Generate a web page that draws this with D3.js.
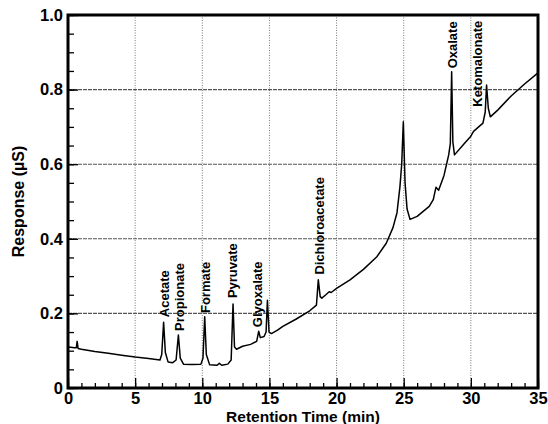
<!DOCTYPE html>
<html>
<head>
  <meta charset="utf-8">
  <script src="https://d3js.org/d3.v7.min.js"></script>
  <style>
    body { margin: 0; background: #fff; }
    svg { font-family: "Liberation Sans", Arial, Helvetica, sans-serif; font-weight: bold; }
    .trace { fill: none; stroke: #000; stroke-width: 1.5; stroke-linejoin: round; }
    .grid-x line { stroke: #555; stroke-width: 0.8; stroke-dasharray: 1,1.5; }
    .grid-y line { stroke: #555; stroke-width: 1.1; stroke-dasharray: 4,1; }
    .axis path { display: none; }
    .axis line { stroke: #000; stroke-width: 1.3; }
    .axis text { font-size: 16.5px; font-weight: bold; fill: #000; }
    .frame { fill: none; stroke: #000; stroke-width: 3; }
    .peak-label { font-size: 13px; }
    .title { font-size: 16px; }
    .title.x-title { font-size: 15.5px; }
  </style>
</head>
<body>
<div id="chart"></div>
<script>
// retention time (min) and detector response (µS)
var times = [0, 0.5, 0.62, 0.68, 0.75, 1, 2, 3, 4, 5, 6, 6.85, 6.98, 7.12, 7.25, 7.45, 7.8,
  8.05, 8.22, 8.36, 8.6, 9.2, 9.9, 10.05, 10.18, 10.3, 10.55, 11.1, 11.27, 11.45, 11.9,
  12.15, 12.29, 12.4, 12.55, 13.0, 13.6, 14.05, 14.2, 14.32, 14.6, 14.75, 14.85, 14.97,
  15.15, 15.6, 16.0, 17.0, 18.0, 18.5, 18.64, 18.78, 18.9, 19.2, 19.45, 19.6, 20.0, 21.0,
  22.0, 23.0, 23.7, 24.2, 24.5, 24.72, 24.85, 24.97, 25.1, 25.25, 25.47, 26.0, 26.9, 27.2,
  27.4, 27.6, 28.0, 28.35, 28.47, 28.57, 28.66, 28.78, 29.5, 30.0, 30.2, 30.9, 31.07,
  31.17, 31.3, 31.45, 32, 33, 34, 35];
var response = [0.11, 0.108, 0.108, 0.125, 0.106, 0.104, 0.098, 0.093, 0.088, 0.083, 0.079,
  0.075, 0.09, 0.176, 0.095, 0.07, 0.068, 0.075, 0.142, 0.08, 0.064, 0.063, 0.064, 0.08,
  0.191, 0.09, 0.062, 0.061, 0.066, 0.061, 0.064, 0.075, 0.225, 0.11, 0.104, 0.112, 0.117,
  0.125, 0.152, 0.135, 0.138, 0.15, 0.235, 0.15, 0.146, 0.155, 0.165, 0.185, 0.207, 0.222,
  0.29, 0.245, 0.241, 0.25, 0.258, 0.256, 0.267, 0.29, 0.318, 0.352, 0.388, 0.43, 0.47,
  0.54, 0.6, 0.714, 0.55, 0.48, 0.452, 0.46, 0.487, 0.505, 0.538, 0.53, 0.57, 0.625, 0.655,
  0.848, 0.66, 0.625, 0.655, 0.675, 0.688, 0.71, 0.74, 0.812, 0.75, 0.727, 0.745, 0.783,
  0.815, 0.845];

// peak names, with the time / level where each label starts
var peakNames = ["Acetate", "Propionate", "Formate", "Pyruvate", "Glyoxalate",
  "Dichloroacetate", "Oxalate", "Ketomalonate"];
var peakLabelTime = [7.19, 8.3, 10.24, 12.21, 14.07, 18.76, 28.63, 30.49];
var peakLabelLevel = [0.19, 0.153, 0.201, 0.241, 0.163, 0.304, 0.857, 0.754];

var xTicks = [0, 5, 10, 15, 20, 25, 30, 35];
var yTicks = [0, 0.2, 0.4, 0.6, 0.8, 1.0];
var xMinor = d3.range(0, 36, 1);
var yMinor = d3.range(0, 1.001, 0.05);
var xGrid = [5, 10, 15, 20, 25, 30];
var yGrid = [0.2, 0.4, 0.6, 0.8];

var width = 548, height = 424;
var margin = {top: 15, right: 10, bottom: 36, left: 68};
var w = width - margin.left - margin.right;
var h = height - margin.top - margin.bottom;

var x = d3.scaleLinear().domain([0, 35]).range([0, w]);
var y = d3.scaleLinear().domain([0, 1]).range([h, 0]);

var svg = d3.select("#chart").append("svg")
  .attr("width", width)
  .attr("height", height)
  .append("g")
  .attr("transform", `translate(${margin.left},${margin.top})`);

/* grid */
svg.append("g").attr("class", "grid-x")
  .selectAll("line").data(xGrid).enter().append("line")
  .attr("x1", d => x(d)).attr("x2", d => x(d))
  .attr("y1", 0).attr("y2", h);

svg.append("g").attr("class", "grid-y")
  .selectAll("line").data(yGrid).enter().append("line")
  .attr("x1", 0).attr("x2", w)
  .attr("y1", d => y(d)).attr("y2", d => y(d));

/* minor ticks, inside */
svg.append("g").attr("class", "axis")
  .attr("transform", `translate(0,${h})`)
  .call(d3.axisBottom(x).tickValues(xMinor).tickSize(-5).tickFormat(""));
svg.append("g").attr("class", "axis")
  .call(d3.axisLeft(y).tickValues(yMinor).tickSize(-6).tickFormat(""));

/* major ticks + labels */
svg.append("g").attr("class", "axis")
  .attr("transform", `translate(0,${h})`)
  .call(d3.axisBottom(x).tickValues(xTicks).tickSize(-10).tickPadding(4).tickFormat(d3.format("d")));
svg.append("g").attr("class", "axis")
  .call(d3.axisLeft(y).tickValues(yTicks).tickSize(-10).tickPadding(5)
    .tickFormat(d => d === 0 ? "0" : d.toFixed(1)));

/* trace */
var line = d3.line()
  .x((d, i) => x(times[i]))
  .y(d => y(d));

svg.append("path")
  .attr("class", "trace")
  .attr("d", line(response));

/* peak labels */
svg.append("g").selectAll("text")
  .data(peakNames).enter().append("text")
  .attr("class", "peak-label")
  .attr("transform", (d, i) => `translate(${x(peakLabelTime[i])},${y(peakLabelLevel[i])}) rotate(-90)`)
  .attr("dy", "0.35em")
  .text(d => d);

/* frame */
svg.append("rect")
  .attr("class", "frame")
  .attr("x", 0).attr("y", 0)
  .attr("width", w).attr("height", h);

/* axis titles */
svg.append("text")
  .attr("class", "title x-title")
  .attr("text-anchor", "middle")
  .attr("x", w / 2)
  .attr("y", h + 34)
  .text("Retention Time (min)");

svg.append("text")
  .attr("class", "title")
  .attr("text-anchor", "middle")
  .attr("transform", `translate(${18 - margin.left},${h / 2}) rotate(-90)`)
  .attr("dy", "0.35em")
  .text("Response (µS)");
</script>
</body>
</html>
